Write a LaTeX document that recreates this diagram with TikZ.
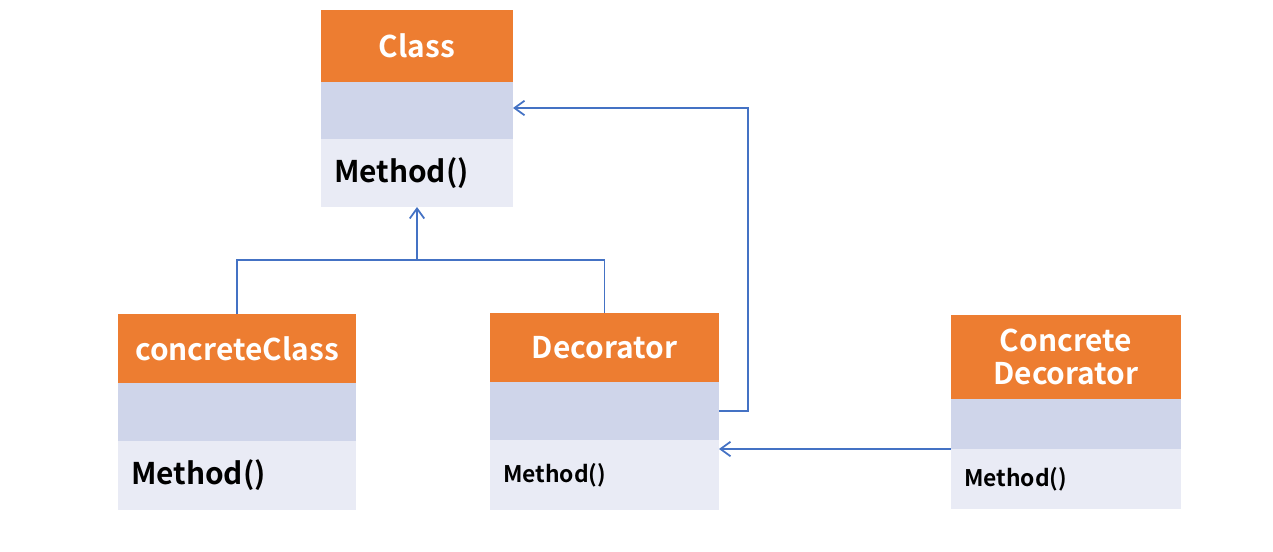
\documentclass[tikz,border=0pt]{standalone}
\usepackage{fontspec}
\setmainfont{Noto Sans CJK SC}[BoldFont={Noto Sans CJK SC Bold}]
\usepackage{tikz}
\usetikzlibrary{positioning,arrows.meta}

\definecolor{hdorange}{HTML}{ED7D31}
\definecolor{attrblue}{HTML}{CFD5EA}
\definecolor{methblue}{HTML}{E9EBF5}
\definecolor{linkblue}{HTML}{4472C4}

\tikzset{
  title/.style={fill=hdorange, text=white, inner sep=0pt, outer sep=0pt, align=center,
    font=\fontsize{17}{21}\selectfont\bfseries, anchor=north west},
  attr/.style={fill=attrblue, inner sep=0pt, outer sep=0pt, below=0pt of #1},
  meth/.style={fill=methblue, inner ysep=0pt, inner xsep=0.26cm, outer sep=0pt,
    align=left, below=0pt of #1},
  link/.style={draw=linkblue, line width=1pt},
  tip/.style={link, -{Straight Barb[length=2mm,width=2.9mm]}}
}

\begin{document}
\begin{tikzpicture}
    \useasboundingbox (0, 0) rectangle (25.46, -11.02);
    % Class
    \node[title, minimum width=3.84cm, minimum height=1.44cm] (clsT) at (6.42, -0.20) {Class};
    \node[attr=clsT, minimum width=3.84cm, minimum height=1.14cm] (clsA) {};
    \node[meth=clsA, text width=3.32cm, minimum height=1.36cm,
      font=\fontsize{17}{21}\selectfont\bfseries] (clsM) {Method()};
    % concreteClass
    \node[title, minimum width=4.76cm, minimum height=1.38cm] (ccT) at (2.36, -6.28) {concreteClass};
    \node[attr=ccT, minimum width=4.76cm, minimum height=1.16cm] (ccA) {};
    \node[meth=ccA, text width=4.24cm, minimum height=1.38cm,
      font=\fontsize{17}{21}\selectfont\bfseries] (ccM) {Method()};
    % Decorator
    \node[title, minimum width=4.58cm, minimum height=1.38cm] (decT) at (9.80, -6.26) {Decorator};
    \node[attr=decT, minimum width=4.58cm, minimum height=1.16cm] (decA) {};
    \node[meth=decA, text width=4.06cm, minimum height=1.40cm,
      font=\fontsize{13}{16}\selectfont\bfseries] (decM) {Method()};
    % Concrete Decorator
    \node[title, minimum width=4.60cm, minimum height=1.68cm] (cdT) at (19.02, -6.30) {Concrete\\[-2pt]Decorator};
    \node[attr=cdT, minimum width=4.60cm, minimum height=1.00cm] (cdA) {};
    \node[meth=cdA, text width=4.08cm, minimum height=1.20cm,
      font=\fontsize{13}{16}\selectfont\bfseries] (cdM) {Method()};

    % links
    \coordinate (join) at (8.34, -5.20);
    \draw[link] (ccT.north) |- (join) -| (decT.north);
    \draw[tip] (join) -- (clsM.south);
    \draw[tip] (decA.east) -- ++(0.58, 0) |- ([yshift=0.05cm]clsA.east);
    \draw[tip] (cdM.north west) -- (cdM.north west -| decM.east);
  \end{tikzpicture}
\end{document}
